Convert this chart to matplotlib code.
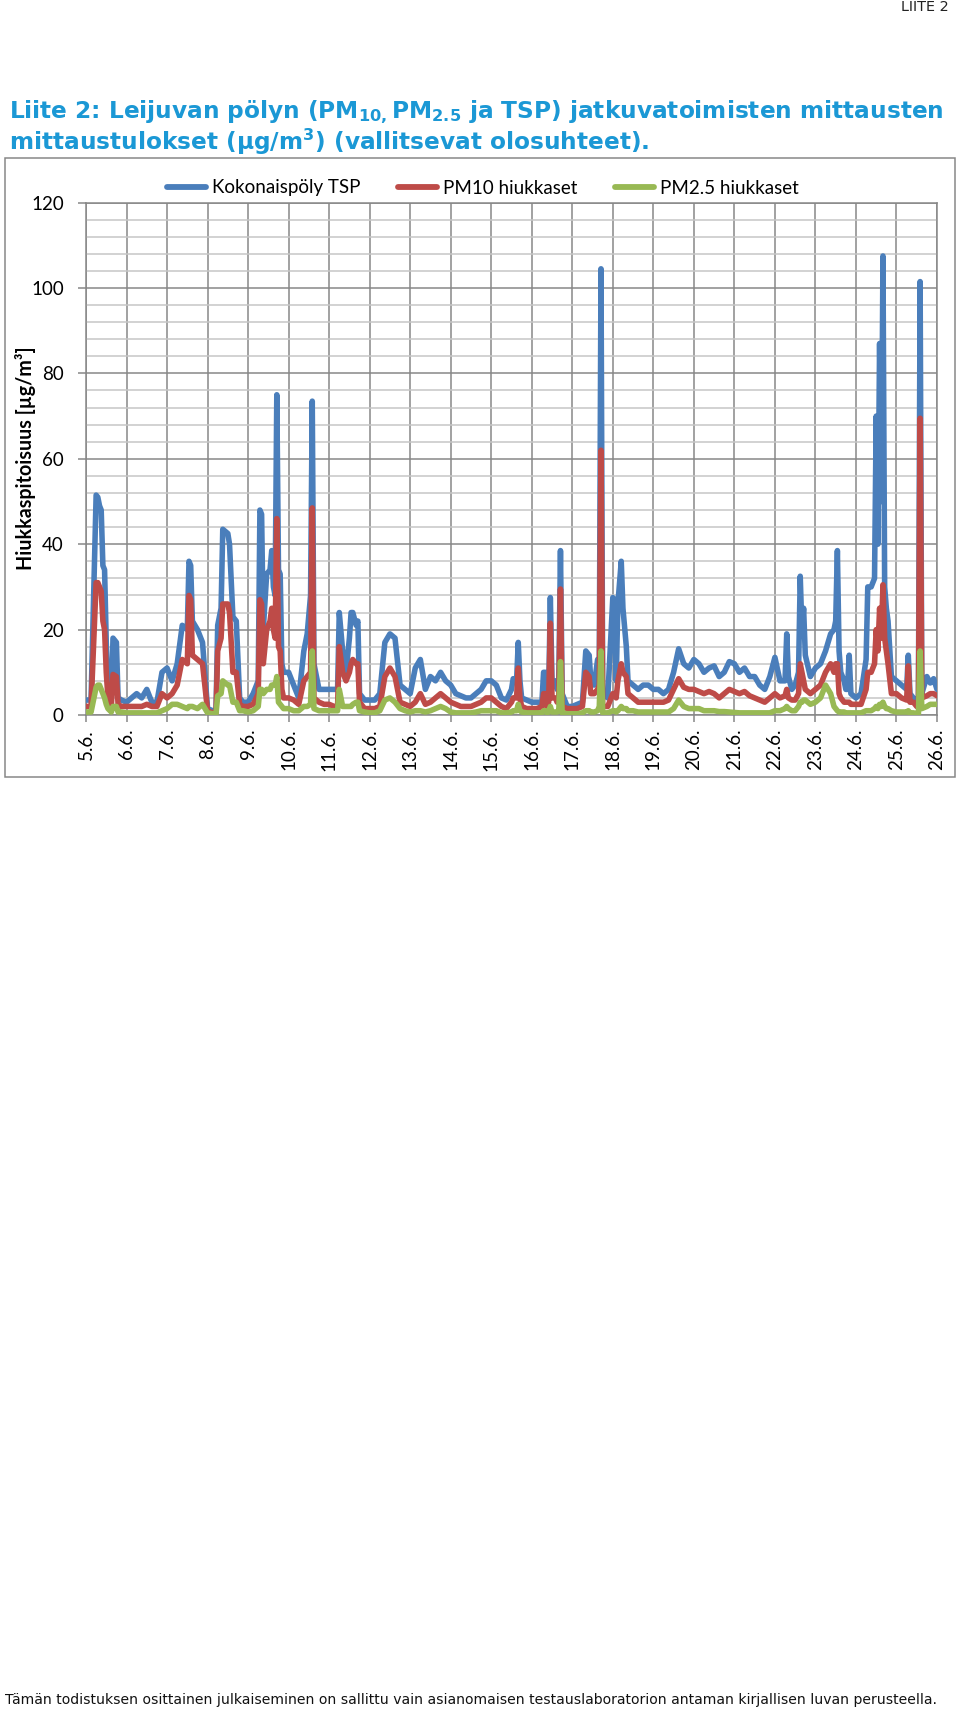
import numpy as np
import matplotlib
matplotlib.use("Agg")
import matplotlib.pyplot as plt
from matplotlib.patches import Rectangle

# ---------------- data -------------------------------------------------------------
days = [f"{d}.6." for d in range(5, 27)]

# hours of the day at which values were read, one row per day (5.6. ... 26.6.)
sample_hours = [
    [0, 3, 6, 7, 8, 9, 10, 11, 12, 13, 15, 16, 18, 19, 21],          # 5.6.
    [0, 3, 6, 9, 12, 15, 18, 21],                                    # 6.6.
    [0, 3, 6, 9, 12, 13, 14, 15, 18, 21],                            # 7.6.
    [0, 3, 5, 6, 8, 9, 12, 13, 15, 17, 19, 21],                      # 8.6.
    [0, 3, 6, 7, 8, 9, 11, 13, 14, 15, 16, 17, 18, 19, 20, 21],      # 9.6.
    [0, 3, 6, 9, 11, 13, 14, 15, 18, 21],                            # 10.6.
    [0, 3, 5, 6, 8, 10, 12, 13, 14, 16, 17, 18, 21],                 # 11.6.
    [0, 3, 6, 9, 12, 15, 18, 21],                                    # 12.6.
    [0, 3, 6, 9, 12, 15, 18, 21],                                    # 13.6.
    [0, 3, 6, 9, 12, 15, 18, 21],                                    # 14.6.
    [0, 3, 6, 9, 12, 13, 15, 16, 17, 18, 21],                        # 15.6.
    [0, 3, 6, 7, 8, 9, 10, 11, 12, 14, 15, 16, 17, 18, 21],          # 16.6.
    [0, 3, 6, 8, 10, 11, 13, 15, 16, 17, 18, 21],                    # 17.6.
    [0, 1, 2, 3, 5, 6, 8, 9, 12, 15, 18, 21],                        # 18.6.
    [0, 3, 6, 9, 12, 15, 18, 21],                                    # 19.6.
    [0, 3, 6, 9, 12, 15, 18, 21],                                    # 20.6.
    [0, 3, 6, 9, 12, 15, 18, 21],                                    # 21.6.
    [0, 3, 6, 7, 8, 10, 12, 14, 15, 16, 17, 18, 21],                 # 22.6.
    [0, 3, 6, 9, 11, 12, 13, 14, 15, 17, 18, 19, 20, 21],            # 23.6.
    [0, 3, 6, 7, 9, 11, 12, 13, 14, 15, 16, 17, 18, 19, 21],         # 24.6.
    [0, 3, 6, 7, 8, 10, 12, 13, 14, 15, 18, 20, 22],                 # 25.6.
    [0],                                                             # 26.6.
]

tsp = [
    3.5, 3.5, 51.5, 51, 49, 48, 35, 34, 17, 6, 4, 18, 17, 4, 3.5,
    3, 4, 5, 4, 6, 3, 3, 10,
    11, 8, 12, 21, 20, 36, 35, 22, 20, 17,
    1.5, 1, 1, 21, 25, 43.5, 42.5, 40, 23, 22, 4, 3,
    3, 5, 8, 48, 47, 20, 33, 34, 38.5, 30, 28, 75, 34, 33, 12, 10,
    10, 7, 4, 15, 19, 28, 73.5, 12, 6, 6,
    6, 6, 6, 24, 15, 10, 18, 24, 24, 21, 22, 5, 3.5,
    3.5, 3.5, 5, 17, 19, 18, 7, 6,
    5, 11, 13, 6, 9, 8, 10, 8,
    7, 5, 4.5, 4, 4, 5, 6, 8,
    8, 7, 4, 3.5, 6, 8.5, 8, 17, 8, 4, 3.5,
    3, 3, 3, 10, 10, 4, 5, 27.5, 8, 8, 6, 7, 38.5, 5, 2,
    2, 2.5, 3, 15, 14, 8, 7, 13, 12, 104.5, 5, 4,
    27.5, 27, 8, 26, 36, 25, 16, 8, 7, 6, 7, 7,
    6, 6, 5, 6, 10, 15.5, 12, 11,
    13, 12, 10, 11, 11.5, 9, 10, 12.5,
    12, 10, 11, 9, 9, 7, 6, 9,
    13.5, 8, 8, 19, 9, 6, 7, 10, 32.5, 20, 25, 14, 9,
    11, 12, 15, 19, 20, 22, 38.5, 15, 10, 8, 6, 6, 14, 5,
    4, 5, 13, 30, 30, 32, 70, 40, 87, 50, 107.5, 30, 25, 22, 9,
    8, 7, 6, 14, 5, 4, 3, 3, 101.5, 5, 9, 7.5, 8.5,
    6,
]

pm10 = [
    2, 2, 31, 31, 30, 29, 22, 20, 10, 4, 2, 9.5, 9, 2.5, 2,
    2, 2, 2, 2, 2.5, 2, 2, 5,
    4, 5, 7, 13, 12, 28, 27, 14, 13, 12,
    1, 0.5, 0.5, 15, 18, 26, 26, 24, 10, 10, 2.5, 2,
    2, 2.5, 5, 27, 26, 12, 20, 22, 25, 20, 18, 46, 16, 15, 6, 4,
    4, 3.5, 2.5, 8, 9, 10, 48.5, 4, 3, 2.5,
    2.5, 2, 2, 16, 10, 8, 10, 12, 13, 12, 12, 3, 1.5,
    1.5, 1.5, 2, 9, 11, 9, 3, 2.5,
    2, 3, 5, 2.5, 3, 4, 5, 4,
    3, 2.5, 2, 2, 2, 2.5, 3, 4,
    4, 3, 2, 1.5, 3, 4, 4, 11, 4, 2, 1.5,
    1.5, 1.5, 2, 5, 5, 2, 3, 21.5, 4, 4, 3, 4, 29.5, 2, 1.5,
    1.5, 1.5, 2, 10, 9, 5, 5, 6, 7, 62, 2, 2,
    5, 5, 4, 8, 12, 10, 9, 5, 4, 3, 3, 3,
    3, 3, 3, 3.5, 6, 8.5, 6.5, 6,
    6, 5.5, 5, 5.5, 5, 4, 5, 6,
    5.5, 5, 5.5, 4.5, 4, 3.5, 3, 4,
    5, 4, 4.5, 6, 4, 3.5, 3.5, 5, 12, 10, 8, 6, 5,
    6, 7, 10, 12, 10, 12, 12, 5, 4, 3, 3, 3, 3, 2.5,
    2.5, 2.5, 6, 10, 10, 12, 20, 15, 25, 18, 30.5, 18, 15, 12, 5,
    5, 4, 3.5, 11.5, 3, 3, 2, 2, 69.5, 4, 4.5, 5, 5,
    4.5,
]

pm25 = [
    0.7, 0.7, 6.5, 7, 7, 6, 5, 4, 2.5, 1.5, 0.7, 2, 2, 0.7, 0.7,
    0.5, 0.5, 0.5, 0.5, 0.5, 0.5, 0.5, 1,
    1.5, 2.5, 2.5, 2, 1.5, 2, 2, 2, 1.5, 2.5,
    0.5, 0.3, 0.3, 4.5, 5, 8, 7, 7, 3, 3, 1, 1,
    0.7, 1, 2, 6, 6, 5, 6, 6, 7, 7, 7, 9, 3, 2.5, 2, 1.5,
    1.5, 1, 1, 2, 2, 2.5, 15, 1.5, 1, 1,
    1, 1, 1, 6, 2, 2, 2, 2, 2.5, 3, 3, 1, 0.7,
    0.5, 0.5, 1, 3.5, 4, 3, 1.5, 1,
    0.7, 1, 1, 0.7, 1, 1.5, 2, 1.5,
    0.7, 0.5, 0.5, 0.5, 0.5, 0.7, 1, 1,
    1, 1, 0.5, 0.5, 0.7, 1, 1, 2.5, 1, 0.7, 0.5,
    0.5, 0.5, 0.5, 1, 1, 0.5, 0.7, 2, 0.7, 0.7, 0.7, 1, 12.5, 0.5, 0.3,
    0.3, 0.3, 0.5, 1, 1, 0.7, 0.7, 1, 2, 15, 0.5, 0.5,
    1, 1, 0.7, 1, 2, 1.5, 1.5, 1, 1, 0.7, 0.7, 0.7,
    0.7, 0.7, 0.7, 0.7, 1.5, 3.5, 2, 1.5,
    1.5, 1.5, 1, 1, 1, 0.8, 0.8, 0.7,
    0.6, 0.5, 0.5, 0.5, 0.5, 0.5, 0.5, 0.5,
    1, 1, 1.5, 2, 1.5, 1, 1, 2, 3, 3, 3.5, 3.5, 2.5,
    3, 4, 7, 5, 2, 1.5, 1, 0.7, 0.7, 0.7, 0.5, 0.5, 0.5, 0.5,
    0.5, 0.5, 1, 1, 1, 1.5, 2, 1.5, 2.5, 2, 3, 2, 1.5, 1.5, 1,
    0.7, 0.7, 0.7, 1, 0.5, 0.5, 0.3, 0.3, 15, 1.5, 2, 2.5, 2.5,
    2.5,
]

series_names = ["Kokonaispöly TSP", "PM10 hiukkaset", "PM2.5 hiukkaset"]
y_ticks = [0, 20, 40, 60, 80, 100, 120]

# elapsed hours since 5.6. 00:00
hours = np.array([24 * i + h for i, hs in enumerate(sample_hours) for h in hs], dtype=float)
assert len(hours) == len(tsp) == len(pm10) == len(pm25), (len(hours), len(tsp), len(pm10), len(pm25))

# ---------------- styling --------------------------------------------------------
W, H = 960, 1710
plt.rcParams["mathtext.fontset"] = "custom"
plt.rcParams["mathtext.rm"] = "DejaVu Sans:bold"
plt.rcParams["mathtext.it"] = "DejaVu Sans:bold"
plt.rcParams["mathtext.bf"] = "DejaVu Sans:bold"
plt.rcParams["mathtext.default"] = "rm"

CHART_FONT = ["Lato", "DejaVu Sans"]
GRID = "#878787"
MINOR = "#c6c6c6"
colors = ["#4A7EBB", "#BE4B48", "#98B954"]

fig = plt.figure(figsize=(W / 100, H / 100), dpi=100)
renderer = fig.canvas.get_renderer()

ax_left, ax_right, ax_top, ax_bot = 86, 937, 202.6, 715
ax = fig.add_axes([ax_left / W, 1 - ax_bot / H, (ax_right - ax_left) / W, (ax_bot - ax_top) / H])

for vals, c, name, z in zip([tsp, pm10, pm25], colors, series_names, [3, 4, 5]):
    ax.plot(hours, vals, color=c, lw=4.0, solid_joinstyle="round",
            solid_capstyle="round", label=name, zorder=z)

ax.set_xlim(0, 24 * (len(days) - 1))
ax.set_ylim(0, 120)
ax.set_xticks(np.arange(len(days)) * 24)
ax.set_xticklabels(days, rotation=90, family=CHART_FONT, fontsize=13.5)
ax.set_yticks(y_ticks)
ax.set_yticklabels([str(v) for v in y_ticks], family=CHART_FONT, fontsize=13.5)
ax.set_yticks(np.arange(0, 121, 4), minor=True)
ax.grid(which="major", color=GRID, lw=1.1, zorder=1)
ax.grid(which="minor", axis="y", color=MINOR, lw=1.1, zorder=0)
ax.set_axisbelow(True)
ax.tick_params(axis="y", which="major", length=6, width=1.1, color=GRID, pad=10)
ax.tick_params(axis="y", which="minor", length=0)
ax.tick_params(axis="x", which="major", length=5, width=1.1, color=GRID, pad=5)
for sp in ax.spines.values():
    sp.set_color(GRID)
    sp.set_linewidth(1.1)

# legend
leg = fig.legend(loc="center", bbox_to_anchor=(0.503, 1 - 188 / H), ncol=3, frameon=False,
                 prop={"family": CHART_FONT, "size": 13.5}, handlelength=2.1,
                 handletextpad=0.3, columnspacing=2.0)
for ln in leg.get_lines():
    ln.set_linewidth(4.2)

# chart frame
fig.add_artist(Rectangle((5 / W, 1 - 777 / H), (955 - 5) / W, (777 - 158) / H,
                         transform=fig.transFigure, fill=False, ec=GRID, lw=1.1))


def fit_text(x_px, y_px, s, target_px, size, horizontal=True, **kw):
    t = fig.text(x_px / W, 1 - y_px / H, s, fontsize=size, **kw)
    bb = t.get_window_extent(renderer)
    cur = bb.width if horizontal else bb.height
    t.set_fontsize(size * target_px / cur)
    return t


# y label
fit_text(26, 458, "Hiukkaspitoisuus [µg/m³]", 223, 13, horizontal=False,
         rotation=90, ha="center", va="center", family=CHART_FONT, weight="bold")

# title
TITLE_C = "#1B98D5"
t1 = fit_text(9, 118, r"Liite 2: Leijuvan pölyn (PM$_{10,}$PM$_{2.5}$ ja TSP) jatkuvatoimisten mittausten",
              936, 15, ha="left", va="baseline", family="DejaVu Sans", weight="bold", color=TITLE_C)
fig.text(9 / W, 1 - 150 / H, r"mittaustulokset (μg/m$^{3}$) (vallitsevat olosuhteet).",
         fontsize=t1.get_fontsize(), ha="left", va="baseline", family="DejaVu Sans",
         weight="bold", color=TITLE_C)

# header / footer
fit_text(949, 11, "LIITE 2", 48, 9, ha="right", va="baseline", family="DejaVu Sans", color="#222222")
fit_text(5, 1704, "Tämän todistuksen osittainen julkaiseminen on sallittu vain asianomaisen "
         "testauslaboratorion antaman kirjallisen luvan perusteella.", 925, 10,
         ha="left", va="baseline", family="DejaVu Sans", color="#111111")

fig.savefig("out.png", dpi=100)
